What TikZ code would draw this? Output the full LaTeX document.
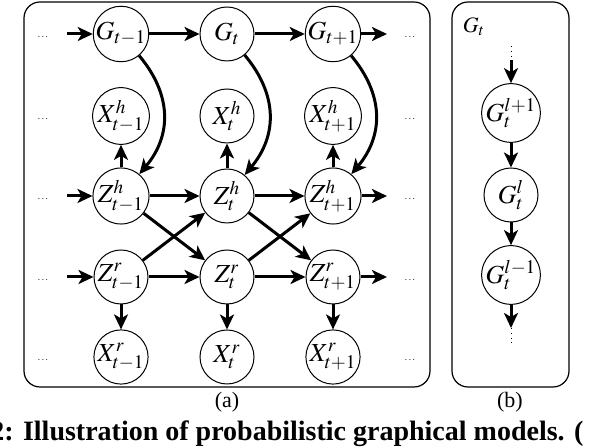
\documentclass[tikz,border=0pt]{standalone}
\usepackage{mathptmx}
\usepackage{fontspec}
\setmainfont{Liberation Serif}
\usetikzlibrary{arrows.meta, positioning}

\tikzset{
  var/.style={circle, draw, line width=0.5pt, minimum size=27pt, inner sep=0pt, font=\fontsize{13}{15}\selectfont},
  edge/.style={-{Stealth[length=7.5pt, width=7pt, inset=2pt]}, line width=1.5pt},
  dots/.style={font=\tiny, inner sep=0pt},
  panel/.style={draw, line width=0.6pt, rounded corners=8pt},
}

\begin{document}
\begin{tikzpicture}[x=0.5pt, y=-0.5pt]
  \useasboundingbox (0,0) rectangle (596,448);
  % panels
  \draw[panel] (24,2) rectangle (430,387);
  \draw[panel] (452,2) rectangle (569,387);
  \node[font=\fontsize{11}{13}\selectfont] (capA) at (227,402) {(a)};
  \node[font=\fontsize{11}{13}\selectfont] (capB) at (510,402) {(b)};

  % (a) variables, one column per time step
  \foreach \i/\x/\s in {1/121/{t-1}, 2/227/t, 3/333/{t+1}} {
    \node[var] (G\i) at (\x,34) {$G_{\s}$};
    \node[var] (Xh\i) at (\x,116) {$X^h_{\s}$};
    \node[var] (Zh\i) at (\x,196) {$Z^h_{\s}$};
    \node[var] (Zr\i) at (\x,277) {$Z^r_{\s}$};
    \node[var] (Xr\i) at (\x,357) {$X^r_{\s}$};
  }
  % dots at both ends of each row
  \foreach \y [count=\r] in {34,116,196,277,357} {
    \node[dots] (dotsL\r) at (43,\y+3) {$\cdots$};
    \node[dots] (dotsR\r) at (410,\y+3) {$\cdots$};
  }
  % chains over time
  \foreach \row/\y in {G/34, Zh/196, Zr/277} {
    \coordinate (in\row) at (67,\y);
    \coordinate (out\row) at (387,\y);
    \draw[edge] (in\row) -- (\row1);
    \draw[edge] (\row1) -- (\row2);
    \draw[edge] (\row2) -- (\row3);
    \draw[edge] (\row3) -- (out\row);
  }
  \foreach \i in {1,2,3} {
    \draw[edge] (G\i) to[out=-50, in=50, looseness=1.1] (Zh\i);
    \draw[edge] (Zh\i) -- (Xh\i);
    \draw[edge] (Zr\i) -- (Xr\i);
  }
  % crossings
  \draw[edge] (Zh1) -- (Zr2);
  \draw[edge] (Zr1) -- (Zh2);
  \draw[edge] (Zh2) -- (Zr3);
  \draw[edge] (Zr2) -- (Zh3);

  % (b) layers inside G_t
  \node[font=\fontsize{11}{13}\selectfont] (Gtb) at (474,27) {$G_t$};
  \node[var] (Gb1) at (511,113) {$G_t^{l+1}$};
  \node[var] (Gb2) at (511,195) {$G_t^{l}$};
  \node[var] (Gb3) at (511,275) {$G_t^{l-1}$};
  \coordinate (topdot) at (511,46);
  \coordinate (topin) at (511,60);
  \coordinate (botout) at (511,328);
  \coordinate (botdot) at (511,344);
  \draw[dotted, line width=0.4pt] (topdot) -- (topin);
  \draw[edge] (topin) -- (Gb1);
  \draw[edge] (Gb1) -- (Gb2);
  \draw[edge] (Gb2) -- (Gb3);
  \draw[edge] (Gb3) -- (botout);
  \draw[dotted, line width=0.4pt] (botout) -- (botdot);

  % caption, cut by the page edges
  \node[anchor=base west, inner sep=0pt, font=\fontsize{14}{16}\selectfont\bfseries] (caption) at (-10,441) {2: Illustration of probabilistic graphical models. (};
\end{tikzpicture}
\end{document}
